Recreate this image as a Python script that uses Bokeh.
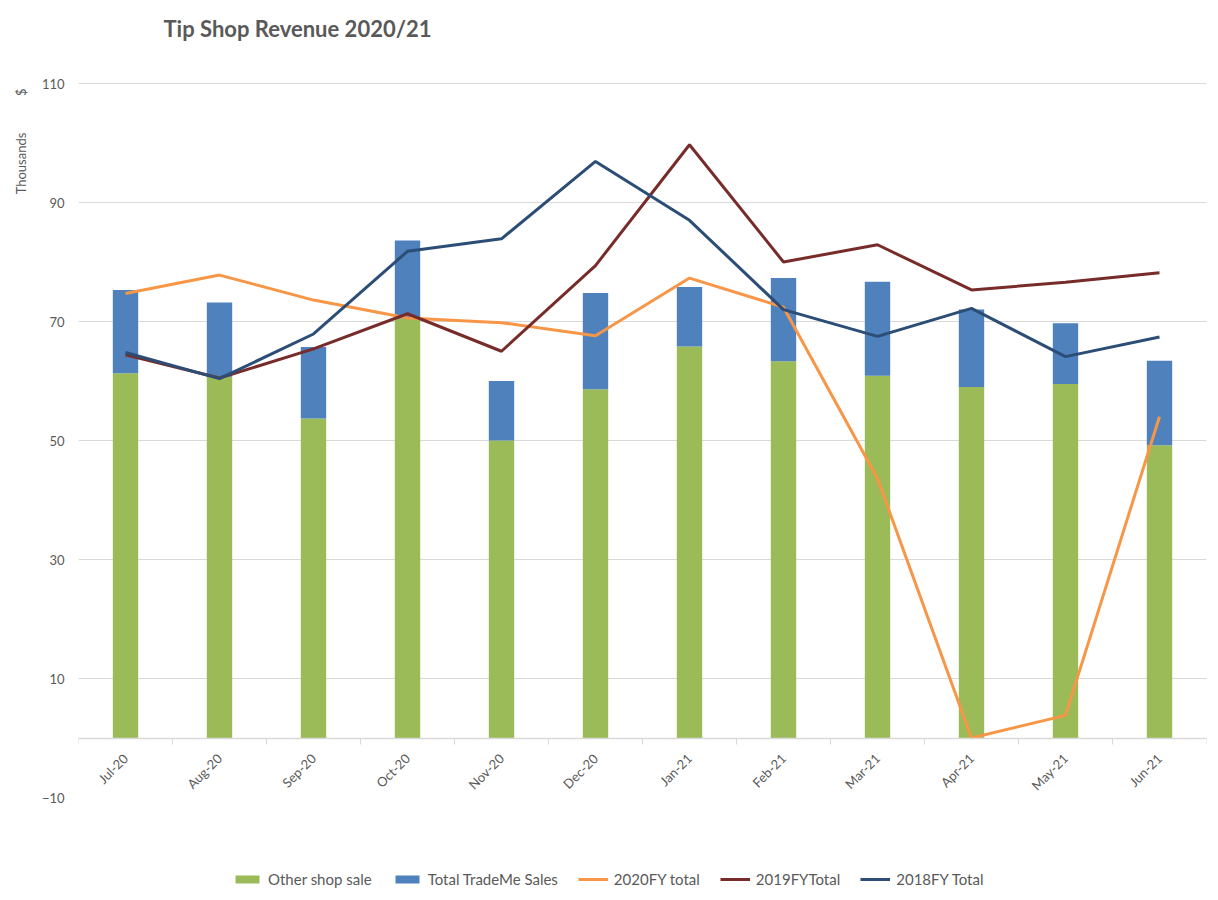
from math import pi
from bokeh.plotting import figure
from bokeh.layouts import column
from bokeh.models import (ColumnDataSource, FixedTicker, Legend, LegendItem, Range1d,
                          Label, Title)
from bokeh.embed import file_html
from bokeh.resources import INLINE

months = ["Jul-20", "Aug-20", "Sep-20", "Oct-20", "Nov-20", "Dec-20",
          "Jan-21", "Feb-21", "Mar-21", "Apr-21", "May-21", "Jun-21"]
other_shop = [61.3, 60.7, 53.7, 70.5, 50.0, 58.6, 65.8, 63.3, 60.9, 59.0, 59.5, 49.2]
trademe = [14.0, 12.5, 12.0, 13.1, 10.0, 16.2, 10.0, 14.0, 15.8, 13.0, 10.2, 14.2]
fy2020 = [74.7, 77.8, 73.6, 70.6, 69.8, 67.6, 77.3, 72.4, 43.6, 0.0, 3.8, 54.0]
fy2019 = [64.4, 60.5, 65.4, 71.3, 65.0, 79.4, 99.7, 80.0, 82.9, 75.3, 76.6, 78.2]
fy2018 = [64.8, 60.4, 67.9, 81.8, 83.9, 96.9, 87.0, 72.0, 67.5, 72.2, 64.1, 67.4]
y_ticks = [-10, 10, 30, 50, 70, 90, 110]
legend_labels = ["Other shop sale", "Total TradeMe Sales", "2020FY total",
                 "2019FYTotal", "2018FY Total"]
title_text = "Tip Shop Revenue 2020/21"
unit_text = "Thousands" + "\u00a0" * 11 + "$"

GREEN = "#9BBB59"
BLUE = "#4F81BD"
ORANGE = "#F79646"
DARKRED = "#772C2A"
NAVY = "#2C4D75"
TXT = "#595959"
GRID = "#D9D9D9"
FONT = "Lato"

# layout geometry (pixels)
W = 1210
TOP_SPACE = 83          # space above the 110 gridline (title lives here)
PLOT_H = 714            # 110 .. -10
BOTTOM = 64
PX_PER_UNIT = PLOT_H / (y_ticks[-1] - y_ticks[0])
y_top = y_ticks[-1] + TOP_SPACE / PX_PER_UNIT

xs = [i + 0.5 for i in range(len(months))]
source = ColumnDataSource(dict(x=xs, other=other_shop, trademe=trademe,
                               fy2020=fy2020, fy2019=fy2019, fy2018=fy2018))

p = figure(width=W, height=TOP_SPACE + PLOT_H + BOTTOM, output_backend="svg",
           toolbar_location=None,
           x_range=Range1d(0, len(months)), y_range=Range1d(y_ticks[0], y_top),
           min_border_left=78, min_border_right=4, min_border_top=0,
           min_border_bottom=BOTTOM)
p.outline_line_color = None
p.background_fill_color = "white"
p.border_fill_color = "white"

bars = p.vbar_stack(["other", "trademe"], x="x", width=0.27, color=[GREEN, BLUE],
                    line_color=None, source=source)
l20 = p.line("x", "fy2020", source=source, color=ORANGE, line_width=3)
l19 = p.line("x", "fy2019", source=source, color=DARKRED, line_width=3)
l18 = p.line("x", "fy2018", source=source, color=NAVY, line_width=3)

# y axis
yax = p.yaxis[0]
yax.ticker = FixedTicker(ticks=y_ticks)
yax.axis_line_color = None
yax.major_tick_line_color = None
yax.major_tick_out = 0
yax.major_tick_in = 0
yax.minor_tick_line_color = None
yax.major_label_standoff = 14
yax.major_label_text_font = FONT
yax.major_label_text_font_size = "13px"
yax.major_label_text_color = TXT
p.ygrid.ticker = FixedTicker(ticks=y_ticks)
p.ygrid.grid_line_color = GRID
p.ygrid.grid_line_width = 1
p.xgrid.visible = False

# x axis at zero
xax = p.xaxis[0]
xax.fixed_location = 0
xax.ticker = FixedTicker(ticks=xs, minor_ticks=list(range(len(months) + 1)))
xax.major_label_overrides = {x: m for x, m in zip(xs, months)}
xax.major_label_orientation = pi / 4
xax.axis_line_color = GRID
xax.axis_line_width = 1.5
xax.major_tick_line_color = None
xax.minor_tick_line_color = GRID
xax.minor_tick_in = 0
xax.minor_tick_out = 6
xax.major_label_standoff = 12
xax.major_label_text_font = FONT
xax.major_label_text_font_size = "13px"
xax.major_label_text_color = TXT

# chart title (inside the frame's top space)
p.add_layout(Label(x=0, y=y_ticks[-1], x_offset=85, y_offset=55,
                   text=title_text, text_font=FONT,
                   text_font_size="22px", text_font_style="bold", text_color=TXT,
                   text_baseline="middle", text_align="left"))

# display-unit label near the top of the value axis
unit = Title(text=unit_text, align="right", offset=88, standoff=20,
             text_font=FONT, text_font_size="13px", text_font_style="normal",
             text_color=TXT)
p.add_layout(unit, "left")

# legend strip below the chart (proxy glyphs sit outside the visible range)
lg = figure(width=W, height=36, output_backend="svg", toolbar_location=None,
            x_range=Range1d(0, 1), y_range=Range1d(0, 1),
            x_axis_location=None, y_axis_location=None,
            min_border_left=0, min_border_right=0, min_border_top=0, min_border_bottom=0)
lg.outline_line_color = None
lg.grid.visible = False
lg.background_fill_color = "white"
lg.border_fill_color = "white"
off = [-5, -4]
g1 = lg.vbar(x=off[:1], top=off[:1], width=0.1, color=GREEN, line_color=None)
g2 = lg.vbar(x=off[:1], top=off[:1], width=0.1, color=BLUE, line_color=None)
g3 = lg.line(x=off, y=off, color=ORANGE, line_width=3)
g4 = lg.line(x=off, y=off, color=DARKRED, line_width=3)
g5 = lg.line(x=off, y=off, color=NAVY, line_width=3)

legend = Legend(items=[LegendItem(label=t, renderers=[r]) for t, r in
                       zip(legend_labels, [g1, g2, g3, g4, g5])],
                orientation="horizontal", location=(154, 9))
legend.border_line_color = None
legend.background_fill_alpha = 0
legend.label_text_font = FONT
legend.label_text_font_size = "15px"
legend.label_text_color = TXT
legend.glyph_width = 30
legend.glyph_height = 10
legend.label_standoff = 6
legend.spacing = 20
legend.padding = 0
legend.margin = 0
lg.add_layout(legend, "center")

layout = column(p, lg, spacing=0)
open("out.html", "w").write(file_html(layout, INLINE))
